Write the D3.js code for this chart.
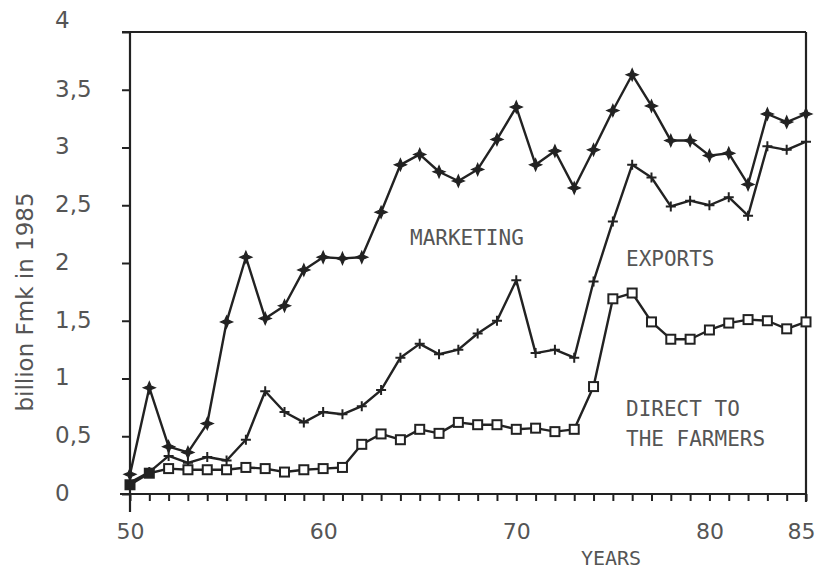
<!DOCTYPE html>
<html>
<head>
<meta charset="utf-8">
<script src="https://cdn.jsdelivr.net/npm/d3@7"></script>
<style>
  body { margin: 0; background: #fff; }
  svg { display: block; }
</style>
</head>
<body>
<div id="chart"></div>
<script>
const years = d3.range(1950, 1986).map(y => y - 1900);

// billion Fmk in 1985
const marketing = [0.17, 0.92, 0.41, 0.36, 0.61, 1.49, 2.05, 1.52, 1.63, 1.94,
                   2.05, 2.04, 2.05, 2.44, 2.85, 2.94, 2.79, 2.71, 2.81, 3.07,
                   3.35, 2.85, 2.97, 2.65, 2.98, 3.32, 3.63, 3.36, 3.06, 3.06,
                   2.93, 2.95, 2.68, 3.29, 3.22, 3.29];
const exports = [0.10, 0.19, 0.33, 0.27, 0.32, 0.29, 0.47, 0.89, 0.71, 0.62,
                 0.71, 0.69, 0.76, 0.90, 1.18, 1.30, 1.21, 1.25, 1.39, 1.50,
                 1.85, 1.22, 1.25, 1.18, 1.84, 2.36, 2.85, 2.74, 2.49, 2.54,
                 2.50, 2.57, 2.41, 3.01, 2.98, 3.05];
const direct = [0.08, 0.18, 0.22, 0.21, 0.21, 0.21, 0.23, 0.22, 0.19, 0.21,
                0.22, 0.23, 0.43, 0.52, 0.47, 0.56, 0.525, 0.62, 0.60, 0.60,
                0.56, 0.57, 0.54, 0.56, 0.93, 1.69, 1.74, 1.49, 1.34, 1.34,
                1.42, 1.48, 1.51, 1.50, 1.43, 1.49];

const yTicks = d3.range(0, 4.01, 0.5);
const xLabels = [50, 60, 70, 80, 85];

const width = 818, height = 571;
const ink = "#222";
const textCol = "#555";
const monoFont = "'DejaVu Sans Mono', monospace";
const sansFont = "'DejaVu Sans', sans-serif";

const svg = d3.select("#chart").append("svg")
    .attr("width", width)
    .attr("height", height);

const x = d3.scaleLinear().domain([50, 85]).range([130, 806]);
const y = d3.scaleLinear().domain([0, 4]).range([494, 32]);

// frame
svg.append("line")
    .attr("x1", 122).attr("x2", x(85))
    .attr("y1", y(4)).attr("y2", y(4))
    .attr("stroke", ink).attr("stroke-width", 2);
svg.append("line")
    .attr("x1", x(85)).attr("x2", x(85))
    .attr("y1", y(4)).attr("y2", y(0) + 8)
    .attr("stroke", ink).attr("stroke-width", 2.2);
svg.append("line")
    .attr("x1", x(50)).attr("x2", x(50))
    .attr("y1", y(4)).attr("y2", y(0) + 18)
    .attr("stroke", ink).attr("stroke-width", 2.2);
svg.append("line")
    .attr("x1", 120).attr("x2", x(85))
    .attr("y1", y(0)).attr("y2", y(0))
    .attr("stroke", ink).attr("stroke-width", 2.2);

// y axis
const yAxis = svg.append("g")
    .attr("transform", `translate(${x(50)},0)`)
    .call(d3.axisLeft(y)
        .tickValues(yTicks)
        .tickSize(8)
        .tickFormat(d => String(d).replace(".", ",")));
yAxis.select(".domain").remove();
yAxis.selectAll(".tick line").attr("stroke", ink).attr("stroke-width", 2);
yAxis.selectAll(".tick text")
    .attr("text-anchor", "start")
    .attr("x", -75)
    .attr("dy", d => d === 4 ? "-0.2em" : "0.28em")
    .attr("fill", textCol)
    .style("font-family", sansFont)
    .style("font-size", "23px");

// x axis
const xAxis = svg.append("g")
    .attr("transform", `translate(0,${y(0)})`)
    .call(d3.axisBottom(x)
        .tickValues(years)
        .tickSize(7)
        .tickPadding(22)
        .tickFormat(d => xLabels.includes(d) ? d : ""));
xAxis.select(".domain").remove();
xAxis.selectAll(".tick line").attr("stroke", ink).attr("stroke-width", 2);
xAxis.selectAll(".tick text")
    .attr("fill", textCol)
    .attr("dx", d => d === 85 ? -5 : 0)
    .style("font-family", sansFont)
    .style("font-size", "22px");

// axis titles
svg.append("text")
    .attr("transform", "translate(33,302) rotate(-90)")
    .attr("text-anchor", "middle")
    .attr("fill", textCol)
    .style("font-family", sansFont)
    .style("font-size", "23px")
    .text("billion Fmk in 1985");

svg.append("text")
    .attr("x", 611).attr("y", 565)
    .attr("text-anchor", "middle")
    .attr("fill", textCol)
    .style("font-family", monoFont)
    .style("font-size", "20px")
    .text("YEARS");

// series
const line = d3.line()
    .x(d => x(d.year))
    .y(d => y(d.value));

function toPoints(values) {
    return values.map((v, i) => ({ year: years[i], value: v }));
}

const series = [
    { name: "marketing", points: toPoints(marketing), marker: "star" },
    { name: "exports", points: toPoints(exports), marker: "plus" },
    { name: "direct", points: toPoints(direct), marker: "square" }
];

const starPath = "M0,-6L1.8,-1.8L6,0L1.8,1.8L0,6L-1.8,1.8L-6,0L-1.8,-1.8Z";

series.forEach(s => {
    svg.append("path")
        .datum(s.points)
        .attr("fill", "none")
        .attr("stroke", ink)
        .attr("stroke-width", 2.4)
        .attr("stroke-linejoin", "round")
        .attr("d", line);

    const g = svg.append("g").attr("class", s.name);
    const marks = g.selectAll("g")
        .data(s.points)
        .join("g")
        .attr("transform", d => `translate(${x(d.year)},${y(d.value)})`);

    if (s.marker === "star") {
        marks.append("path")
            .attr("d", starPath)
            .attr("fill", ink)
            .attr("stroke", ink)
            .attr("stroke-width", 1.2);
    } else if (s.marker === "plus") {
        marks.append("path")
            .attr("d", "M-5,0H5M0,-5V5")
            .attr("stroke", ink)
            .attr("stroke-width", 2);
    } else {
        marks.append("rect")
            .attr("x", -4.5).attr("y", -4.5)
            .attr("width", 9).attr("height", 9)
            .attr("fill", (d, i) => i < 2 ? ink : "#fff")
            .attr("stroke", ink)
            .attr("stroke-width", 2);
    }
});

// in-plot labels
const labels = [
    { text: "MARKETING", x: 410, y: 245 },
    { text: "EXPORTS", x: 626, y: 266 },
    { text: "DIRECT TO", x: 626, y: 416 },
    { text: "THE FARMERS", x: 626, y: 446 }
];
svg.selectAll(".series-label")
    .data(labels)
    .join("text")
    .attr("class", "series-label")
    .attr("x", d => d.x)
    .attr("y", d => d.y)
    .attr("fill", textCol)
    .style("font-family", monoFont)
    .style("font-size", "21px")
    .text(d => d.text);
</script>
</body>
</html>
